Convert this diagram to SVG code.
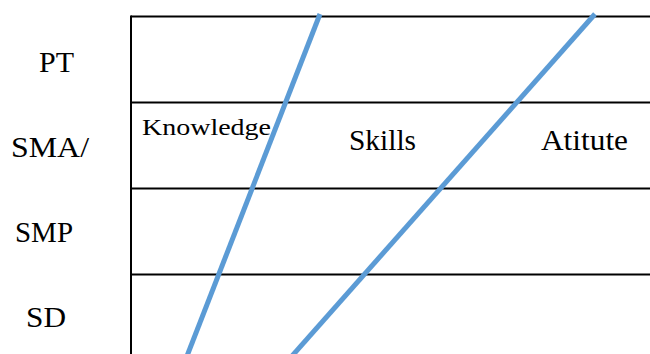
<svg xmlns="http://www.w3.org/2000/svg" width="650" height="354" viewBox="0 0 650 354">
<style>
.grid{stroke:#000;stroke-width:2;fill:none}
.diag{stroke:#5B9BD5;stroke-width:5;fill:none}
text{font-family:"Liberation Serif","Times New Roman",serif;fill:#000}
.row{font-size:29px}
.col{font-size:29px}
.kn{font-size:24px}
</style>
<rect width="650" height="354" fill="#fff"/>
<g id="grid">
<line class="grid" x1="131" y1="16.5" x2="650" y2="16.5"/>
<line class="grid" x1="131" y1="102.5" x2="650" y2="102.5"/>
<line class="grid" x1="131" y1="188.5" x2="650" y2="188.5"/>
<line class="grid" x1="131" y1="274.5" x2="650" y2="274.5"/>
<line class="grid" x1="131" y1="15.5" x2="131" y2="354"/>
</g>
<g id="row-PT"><text class="row" x="39" y="72" textLength="35" lengthAdjust="spacingAndGlyphs">PT</text></g>
<g id="row-SMA"><text class="row" x="11" y="157" textLength="78" lengthAdjust="spacingAndGlyphs">SMA/</text></g>
<g id="row-SMP"><text class="row" x="15" y="242" textLength="58" lengthAdjust="spacingAndGlyphs">SMP</text></g>
<g id="row-SD"><text class="row" x="26" y="327" textLength="40" lengthAdjust="spacingAndGlyphs">SD</text></g>
<g id="col-knowledge"><text class="kn" x="142" y="135" textLength="129" lengthAdjust="spacingAndGlyphs">Knowledge</text></g>
<g id="col-skills"><text class="col" x="349" y="150" textLength="67" lengthAdjust="spacingAndGlyphs">Skills</text></g>
<g id="col-atitute"><text class="col" x="541" y="150" textLength="87" lengthAdjust="spacingAndGlyphs">Atitute</text></g>
<g id="connectors">
<line class="diag" x1="320" y1="14" x2="187" y2="356"/>
<line class="diag" x1="595" y1="14" x2="292" y2="356"/>
</g>
</svg>
